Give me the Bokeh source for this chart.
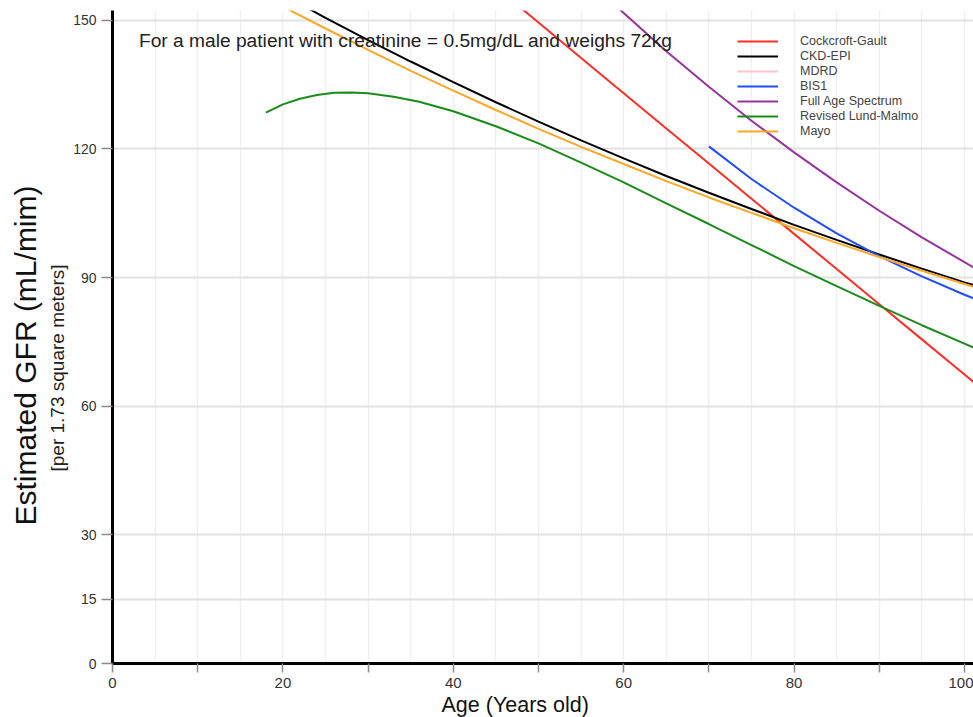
from bokeh.plotting import figure
from bokeh.models import Range1d, FixedTicker, Label, Title
from bokeh.embed import file_html
from bokeh.resources import INLINE

# ---------------- data ----------------
AGES = [18, 20, 25, 30, 35, 40, 45, 50, 55, 60, 65, 70, 75, 80, 85, 90, 95, 100, 101.5]
COCKCROFT_GAULT = [202.0, 198.7, 190.5, 182.3, 174.1, 165.9, 157.7, 149.5, 141.2, 133.0,
                   124.8, 116.6, 108.4, 100.2, 92.0, 83.8, 75.6, 67.4, 64.9]
CKD_EPI = [158.2, 156.0, 150.6, 145.4, 140.4, 135.6, 130.9, 126.4, 122.0, 117.8,
           113.7, 109.8, 106.0, 102.3, 98.8, 95.4, 92.1, 88.9, 88.0]
MDRD = [216.6, 212.0, 202.6, 195.2, 189.2, 184.2, 179.8, 176.0, 172.6, 169.6,
        166.9, 164.4, 162.1, 160.0, 158.0, 156.2, 154.5, 152.9, 152.4]
FULL_AGE_SPECTRUM = [193.1, 193.1, 193.1, 193.1, 193.1, 193.1, 181.8, 171.2, 161.1, 151.7,
                     142.8, 134.5, 126.6, 119.2, 112.2, 105.6, 99.4, 93.6, 91.9]
MAYO = [155.3, 153.2, 148.1, 143.1, 138.2, 133.6, 129.1, 124.7, 120.5, 116.5,
        112.5, 108.7, 105.1, 101.5, 98.1, 94.8, 91.6, 88.5, 87.6]

BIS1_AGES = [70, 75, 80, 85, 90, 95, 100, 101.5]
BIS1 = [120.6, 113.0, 106.3, 100.3, 95.0, 90.3, 86.0, 84.8]

LUND_AGES = [18, 20, 22, 24, 26, 28, 30, 33, 36, 40, 45, 50, 55, 60, 65, 70, 75, 80,
             85, 90, 95, 100, 101.5]
LUND_MALMO = [128.5, 130.4, 131.7, 132.6, 133.1, 133.2, 133.0, 132.2, 131.0, 128.8,
              125.3, 121.3, 116.8, 112.2, 107.3, 102.5, 97.6, 92.7, 88.0, 83.4, 78.9,
              74.6, 73.3]

SERIES_NAMES = ["Cockcroft-Gault", "CKD-EPI", "MDRD", "BIS1", "Full Age Spectrum",
                "Revised Lund-Malmo", "Mayo"]
SERIES_COLORS = ["#ff2e24", "#000000", "#ffc4cf", "#1f4dff", "#97329f", "#1a8c1a", "#ffa726"]

Y_TICKS = [0, 15, 30, 60, 90, 120, 150]
X_TICKS = [0, 10, 20, 30, 40, 50, 60, 70, 80, 90, 100]
X_LABELED = [0, 20, 40, 60, 80, 100]
X_GRID = [0, 5, 10, 15, 20, 25, 30, 35, 40, 45, 50, 55, 60, 65, 70, 75, 80, 85, 90, 95, 100]

NOTE = "For a male patient with creatinine = 0.5mg/dL and weighs 72kg"
Y_TITLE = "Estimated GFR (mL/mim)"
Y_SUBTITLE = "[per 1.73 square meters]"
X_TITLE = "Age (Years old)"
FONT = "Liberation Sans"

# ---------------- figure ----------------
p = figure(width=973, height=717, x_range=Range1d(0, 101.06), y_range=Range1d(0, 152.3),
           output_backend="svg", toolbar_location=None, title=None,
           min_border_left=112, min_border_right=0, min_border_top=10, min_border_bottom=54)
p.outline_line_color = None
p.background_fill_color = "white"
p.border_fill_color = "white"

# axes
for ax in (p.xaxis[0], p.yaxis[0]):
    ax.axis_line_color = "black"
    ax.axis_line_width = 3
    ax.major_tick_line_color = "#8a8a8a"
    ax.major_tick_line_width = 1.5
    ax.major_tick_in = 0
    ax.minor_tick_line_color = None
    ax.major_label_text_font = FONT
    ax.major_label_text_color = "#333333"

p.xaxis.ticker = FixedTicker(ticks=X_TICKS)
p.xaxis.major_label_overrides = {t: (str(t) if t in X_LABELED else "") for t in X_TICKS}
p.xaxis.major_tick_out = 9
p.xaxis.major_label_text_font_size = "15px"
p.xaxis.major_label_standoff = 5

p.yaxis.ticker = FixedTicker(ticks=Y_TICKS)
p.yaxis.major_tick_out = 11
p.yaxis.major_label_text_font_size = "14px"
p.yaxis.major_label_standoff = 5

# grids
p.xgrid.ticker = FixedTicker(ticks=X_GRID)
p.xgrid.grid_line_color = "#f0f0f0"
p.xgrid.grid_line_width = 1.5
p.ygrid.ticker = FixedTicker(ticks=Y_TICKS)
p.ygrid.grid_line_color = "#e2e2e2"
p.ygrid.grid_line_width = 2

# axis titles (side panels)
p.add_layout(Title(text=Y_SUBTITLE, text_font=FONT, text_font_size="19px",
                   text_font_style="normal", text_color="#222222", align="left",
                   offset=192, standoff=6), "left")
p.add_layout(Title(text=Y_TITLE, text_font=FONT, text_font_size="30px",
                   text_font_style="normal", text_color="#111111", align="left",
                   offset=138, standoff=0), "left")
p.add_layout(Title(text=X_TITLE, text_font=FONT, text_font_size="21.5px",
                   text_font_style="normal", text_color="#111111", align="left",
                   offset=329, standoff=0), "below")

# series
series = [
    (AGES, COCKCROFT_GAULT),
    (AGES, CKD_EPI),
    (AGES, MDRD),
    (BIS1_AGES, BIS1),
    (AGES, FULL_AGE_SPECTRUM),
    (LUND_AGES, LUND_MALMO),
    (AGES, MAYO),
]
for (xs, ys), name, color in zip(series, SERIES_NAMES, SERIES_COLORS):
    p.line(xs, ys, line_color=color, line_width=2, legend_label=name)

leg = p.legend[0]
leg.location = (625, 525)
leg.background_fill_alpha = 0
leg.border_line_alpha = 0
leg.padding = 0
leg.margin = 0
leg.spacing = 1
leg.glyph_width = 41
leg.glyph_height = 14
leg.label_height = 14
leg.label_standoff = 22
leg.label_text_font = FONT
leg.label_text_font_size = "12.5px"
leg.label_text_color = "#444444"

p.add_layout(Label(x=3.1, y=145.3, text=NOTE, text_font=FONT, text_font_size="19.2px",
                   text_color="#222222", text_baseline="middle"))

open("out.html", "w").write(file_html(p, INLINE))
